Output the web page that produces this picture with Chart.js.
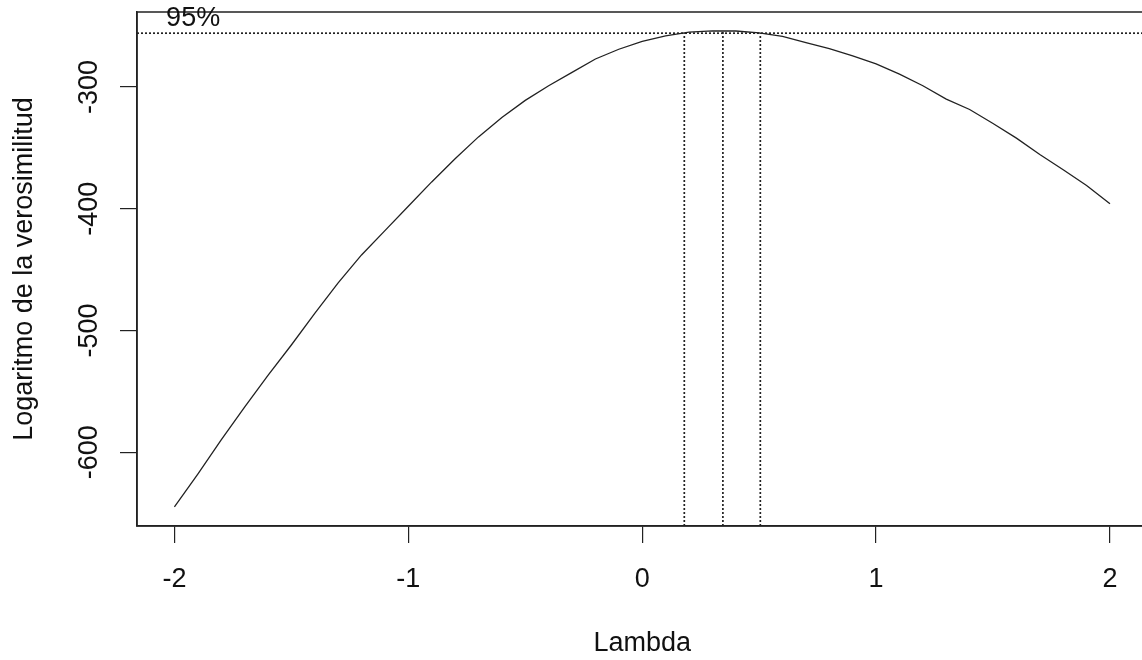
<!DOCTYPE html>
<html>
<head>
<meta charset="utf-8">
<script src="https://cdn.jsdelivr.net/npm/chart.js@4.4.1/dist/chart.umd.min.js"></script>
<style>
  html, body { margin: 0; padding: 0; background: #fff; overflow: hidden; }
  #wrap { width: 1150px; height: 660px; }
</style>
</head>
<body>
<div id="wrap"><canvas id="boxcox"></canvas></div>
<script>
// Box-Cox profile log-likelihood
const lambdas = [-2, -1.9, -1.8, -1.7, -1.6, -1.5, -1.4, -1.3, -1.2, -1.1, -1,
                 -0.9, -0.8, -0.7, -0.6, -0.5, -0.4, -0.3, -0.2, -0.1, 0,
                 0.1, 0.2, 0.3, 0.4, 0.5, 0.6, 0.7, 0.8, 0.9, 1,
                 1.1, 1.2, 1.3, 1.4, 1.5, 1.6, 1.7, 1.8, 1.9, 2];
const logLik = [-645, -618, -590, -563, -537, -512, -486, -461, -438, -418, -398,
                -378, -359, -341, -325, -311, -299, -288, -277, -269, -262.5,
                -258, -255, -253.9, -254, -255.5, -258.5, -263.5, -268.5, -274.5, -281,
                -289.5, -299, -310, -318.5, -330, -342, -355.5, -368, -381, -396];

const ciLambda = [0.18, 0.345, 0.505];   // lower, MLE, upper
const ciLevel = -255.8;
const maxLogLik = -253.9;

const xTicks = [-2, -1, 0, 1, 2];
const yTicks = [-600, -500, -400, -300];
const xRange = [-2.16, 2.16];
const yRange = [-660.7, -238.4];

const FONT = "'Liberation Sans', Arial, sans-serif";
const INK = '#222';

const curve = lambdas.map((l, i) => ({ x: l, y: logLik[i] }));
const dotted = { borderColor: '#222', borderWidth: 1.7, borderDash: [2, 2], pointRadius: 0, fill: false };

const datasets = [
    { data: curve, borderColor: INK, borderWidth: 1.3, pointRadius: 0, fill: false, tension: 0 },
    { ...dotted, data: [{ x: xRange[0], y: ciLevel }, { x: xRange[1], y: ciLevel }] },
    { ...dotted, data: [{ x: ciLambda[0], y: yRange[0] }, { x: ciLambda[0], y: ciLevel }] },
    { ...dotted, data: [{ x: ciLambda[1], y: yRange[0] }, { x: ciLambda[1], y: maxLogLik }] },
    { ...dotted, data: [{ x: ciLambda[2], y: yRange[0] }, { x: ciLambda[2], y: ciLevel }] }
];

const boxAndLabel = {
    id: 'boxAndLabel',
    afterDatasetsDraw(chart) {
        const { ctx, chartArea: a, scales } = chart;
        ctx.save();
        ctx.strokeStyle = INK;
        ctx.lineWidth = 1.5;
        ctx.strokeRect(a.left, a.top, a.right - a.left, a.bottom - a.top);
        ctx.fillStyle = '#111';
        ctx.font = '27px ' + FONT;
        ctx.textAlign = 'center';
        ctx.textBaseline = 'middle';
        ctx.fillText('95%', scales.x.getPixelForValue(-1.92), scales.y.getPixelForValue(-243.5));
        ctx.restore();
    }
};

function noPad(s) {
    s.paddingTop = 0; s.paddingBottom = 0; s.paddingLeft = 0; s.paddingRight = 0;
}

new Chart(document.getElementById('boxcox'), {
    type: 'line',
    data: { datasets },
    plugins: [boxAndLabel],
    options: {
        responsive: true,
        maintainAspectRatio: false,
        animation: false,
        layout: { padding: { left: 0, top: 12, right: 2.6, bottom: 0 } },
        plugins: { legend: { display: false }, tooltip: { enabled: false } },
        scales: {
            x: {
                type: 'linear',
                min: xRange[0],
                max: xRange[1],
                afterBuildTicks: s => { s.ticks = xTicks.map(v => ({ value: v })); },
                afterFit: s => { s.height = 134; noPad(s); },
                grid: { drawOnChartArea: false, drawTicks: true, tickLength: 17, color: INK, lineWidth: 1.2 },
                border: { display: true, color: INK, width: 1.5 },
                ticks: { color: '#111', font: { family: FONT, size: 27 }, padding: 20, autoSkip: false, maxRotation: 0 },
                title: { display: true, text: 'Lambda', color: '#111', font: { family: FONT, size: 27 }, padding: { top: 0, bottom: 0 } }
            },
            y: {
                type: 'linear',
                min: yRange[0],
                max: yRange[1],
                afterBuildTicks: s => { s.ticks = yTicks.map(v => ({ value: v })); },
                afterFit: s => { s.width = 137; noPad(s); },
                grid: { drawOnChartArea: false, drawTicks: true, tickLength: 17, color: INK, lineWidth: 1.2 },
                border: { display: true, color: INK, width: 1.5 },
                ticks: { color: '#111', font: { family: FONT, size: 27 }, padding: 30, autoSkip: false,
                         minRotation: 90, maxRotation: 90, labelOffset: -27 },
                title: { display: true, text: 'Logaritmo de la verosimilitud', color: '#111', font: { family: FONT, size: 27 }, padding: { top: 8, bottom: 0 } }
            }
        }
    }
});
</script>
</body>
</html>
